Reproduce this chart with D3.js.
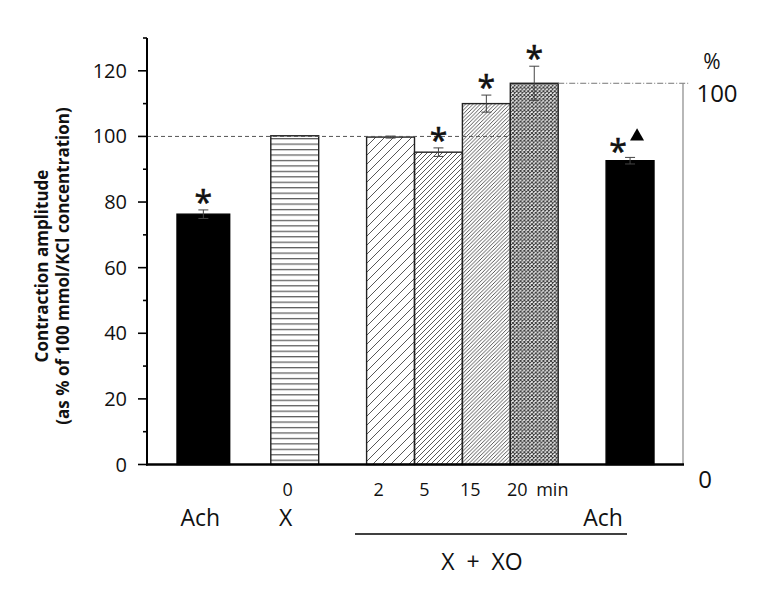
<!DOCTYPE html>
<html><head><meta charset="utf-8">
<script src="https://cdn.jsdelivr.net/npm/d3@7"></script>
<style>body{margin:0;background:#fff}svg{display:block}text{font-family:"Open Sans","Noto Sans",sans-serif;fill:#111}</style>
</head><body><svg id="c" width="766" height="596"></svg>
<script>
// ---- data ----
const categories = ["Ach", "X 0", "XO 2", "XO 5", "XO 15", "XO 20", "Ach XO"];
const values = [76.3, 100.2, 99.8, 95.2, 110.0, 116.2, 92.6];
const errors = [1.3, 0, 0.3, 1.3, 2.6, 5.2, 1.0];
const significant = [true, false, false, true, true, true, true];
const vsXO = [false, false, false, false, false, false, true];
const fills = ["solid", "hlines", "diag1", "diag2", "diag3", "cross", "solid"];
const timeLabels = ["0", "2", "5", "15", "20"];
const yTicks = [0, 20, 40, 60, 80, 100, 120];
const yMinorTicks = [10, 30, 50, 70, 90, 110, 130];
const slots = ["Ach", "g1", "X 0", "g2", "XO 2", "XO 5", "XO 15", "XO 20", "g3", "Ach XO"];

const svg = d3.select("#c");
const y = d3.scaleLinear().domain([0, 130]).range([464.5, 38]);
const x = d3.scaleBand().domain(slots).range([175, 654]).padding(0);
const bw = x.bandwidth();
const axisX = 147, rightX = 683;

// ---- patterns ----
const defs = svg.append("defs");
function diag(id, w, col) {
  const p = defs.append("pattern").attr("id", id).attr("patternUnits", "userSpaceOnUse").attr("width", w).attr("height", w);
  p.append("path").attr("d", `M0,${w} L${w},0 M${-w/2},${w/2} L${w/2},${-w/2} M${w/2},${w*1.5} L${w*1.5},${w/2}`)
    .attr("stroke", col).attr("stroke-width", 0.9).attr("fill", "none");
}
const ph = defs.append("pattern").attr("id", "hlines").attr("patternUnits", "userSpaceOnUse").attr("width", 10).attr("height", 5.45);
ph.append("line").attr("x1", 0).attr("x2", 10).attr("y1", 2.5).attr("y2", 2.5).attr("stroke", "#333").attr("stroke-width", 1);
diag("diag1", 9, "#444");
diag("diag2", 5, "#444");
diag("diag3", 3.7, "#444");
const pc = defs.append("pattern").attr("id", "cross").attr("patternUnits", "userSpaceOnUse").attr("width", 3.8).attr("height", 3.8);
pc.append("path").attr("d", "M0,3.8 L3.8,0 M0,0 L3.8,3.8").attr("stroke", "#333").attr("stroke-width", 1).attr("fill", "none");

// ---- bars ----
function bx(i) { return x(categories[i]) + (i === 0 ? 2 : 0); }
function bwid(i) { return i === 0 ? bw * 1.1 : bw; }
const g = svg.append("g");
categories.forEach((c, i) => {
  g.append("rect").attr("x", bx(i)).attr("y", y(values[i])).attr("width", bwid(i)).attr("height", y(0) - y(values[i]))
    .attr("fill", fills[i] === "solid" ? "#000" : `url(#${fills[i]})`)
    .attr("stroke", fills[i] === "solid" ? "#000" : "#222").attr("stroke-width", 1.4);
});

// reference lines
const i5 = 4, i6 = 5;
svg.append("line").attr("x1", axisX).attr("x2", bx(i5) + bw).attr("y1", y(100)).attr("y2", y(100))
  .attr("stroke", "#555").attr("stroke-width", 1).attr("stroke-dasharray", "4,3");
svg.append("line").attr("x1", bx(i6) + bw).attr("x2", rightX + 7).attr("y1", y(values[i6])).attr("y2", y(values[i6]))
  .attr("stroke", "#777").attr("stroke-width", 1).attr("stroke-dasharray", "6,2,1,2");
svg.append("line").attr("x1", rightX).attr("x2", rightX).attr("y1", y(values[i6])).attr("y2", y(0))
  .attr("stroke", "#888").attr("stroke-width", 1.2);

// error bars
categories.forEach((c, i) => {
  if (!errors[i]) return;
  const cx = bx(i) + bwid(i) / 2;
  const eg = svg.append("g").attr("stroke", "#444").attr("stroke-width", 1);
  eg.append("line").attr("x1", cx).attr("x2", cx).attr("y1", y(values[i] + errors[i])).attr("y2", y(values[i] - errors[i]));
  [values[i] + errors[i], values[i] - errors[i]].forEach(v =>
    eg.append("line").attr("x1", cx - 5).attr("x2", cx + 5).attr("y1", y(v)).attr("y2", y(v)));
});

// significance marks
categories.forEach((c, i) => {
  const cx = bx(i) + bwid(i) / 2;
  const top = y(values[i] + errors[i]);
  if (significant[i]) {
    svg.append("text").attr("x", vsXO[i] ? cx - 12 : cx).attr("y", top + (vsXO[i] ? 6 : 4))
      .attr("text-anchor", "middle").attr("font-size", 32).attr("stroke", "#111").attr("stroke-width", 0.6).text("*");
  }
  if (vsXO[i]) {
    svg.append("path").attr("d", d3.symbol(d3.symbolTriangle, 85)()).attr("transform", `translate(${cx + 7},${top - 21})`).attr("fill", "#000");
  }
});

// ---- axes ----
const ax = svg.append("g");
ax.append("line").attr("x1", axisX).attr("x2", axisX).attr("y1", y(130)).attr("y2", y(0) + 1).attr("stroke", "#000").attr("stroke-width", 2);
ax.append("line").attr("x1", axisX - 1).attr("x2", rightX + 1).attr("y1", y(0)).attr("y2", y(0)).attr("stroke", "#000").attr("stroke-width", 2.5);
yTicks.forEach(t => {
  ax.append("line").attr("x1", axisX - 9).attr("x2", axisX).attr("y1", y(t)).attr("y2", y(t)).attr("stroke", "#000").attr("stroke-width", 1.6);
  ax.append("text").attr("x", axisX - 20).attr("y", y(t) + 7).attr("text-anchor", "end").attr("font-size", 20).text(t);
});
yMinorTicks.forEach(t => {
  ax.append("line").attr("x1", axisX - 4).attr("x2", axisX).attr("y1", y(t)).attr("y2", y(t)).attr("stroke", "#000").attr("stroke-width", 1.6);
});

// y title
const yt = svg.append("text").attr("transform", "translate(0,266) rotate(-90)").attr("text-anchor", "middle")
  .attr("font-weight", "bold").attr("font-size", 17);
yt.append("tspan").attr("x", 0).attr("y", 48).text("Contraction amplitude");
yt.append("tspan").attr("x", 0).attr("y", 69).text("(as % of 100 mmol/KCl concentration)");

// right scale labels
svg.append("text").attr("x", 712).attr("y", 69).attr("text-anchor", "middle").attr("font-size", 21).text("%");
svg.append("text").attr("x", 717).attr("y", 102).attr("text-anchor", "middle").attr("font-size", 24).text("100");
svg.append("text").attr("x", 705).attr("y", 488).attr("text-anchor", "middle").attr("font-size", 24).text("0");

// bottom labels
const timeIdx = [1, 2, 3, 4, 5];
const shift = [-7, -12, -14, -16, -17];
timeLabels.forEach((t, k) => {
  const i = timeIdx[k];
  svg.append("text").attr("x", bx(i) + bw / 2 + shift[k]).attr("y", 496).attr("text-anchor", "middle").attr("font-size", 18).text(t);
});
svg.append("text").attr("x", bx(5) + bw - 22).attr("y", 496).attr("font-size", 18).text("min");
svg.append("text").attr("x", bx(0) + bwid(0) / 2 - 3).attr("y", 526).attr("text-anchor", "middle").attr("font-size", 23).text("Ach");
svg.append("text").attr("x", bx(1) + bw / 2 - 9).attr("y", 526).attr("text-anchor", "middle").attr("font-size", 23).text("X");
svg.append("text").attr("x", bx(6) + bw / 2 - 27).attr("y", 526).attr("text-anchor", "middle").attr("font-size", 23).text("Ach");
svg.append("line").attr("x1", 355).attr("x2", 627).attr("y1", 534).attr("y2", 534).attr("stroke", "#000").attr("stroke-width", 1.6);
svg.append("text").attr("x", 482).attr("y", 570).attr("text-anchor", "middle").attr("font-size", 23).attr("xml:space", "preserve").text("X  +  XO");
</script></body></html>
